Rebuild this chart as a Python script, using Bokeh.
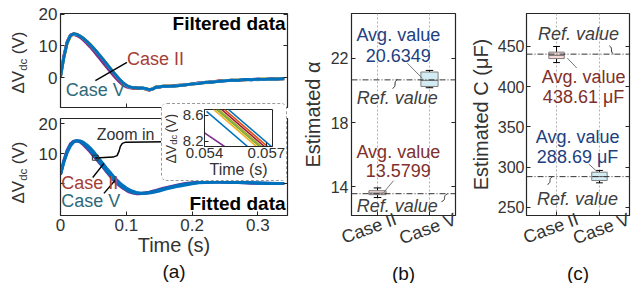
from math import pi
from bokeh.plotting import figure
from bokeh.layouts import row, column
from bokeh.models import Label, Span, FixedTicker, LinearAxis, Range1d, Title
from bokeh.embed import file_html
from bokeh.resources import INLINE

FONT = "Liberation Sans"
TXT = "#333333"
AXC = "#262626"
BLUE_T = "#213f7f"
RED_T = "#80302c"
CASE2_C = "#a63d38"
CASE5_C = "#2e6a7a"

# ---------------- data: panel (a) ----------------
time_s = [0.000, 0.005, 0.010, 0.015, 0.020, 0.025, 0.030, 0.035, 0.040, 0.045,
          0.050, 0.055, 0.060, 0.065, 0.070, 0.075, 0.080, 0.085, 0.090, 0.095,
          0.100, 0.105, 0.110, 0.115, 0.120, 0.125, 0.130, 0.135, 0.140, 0.145,
          0.150, 0.155, 0.160, 0.170, 0.180, 0.190, 0.200, 0.210, 0.220, 0.230,
          0.240, 0.250, 0.260, 0.270, 0.280, 0.290, 0.300, 0.310, 0.320, 0.330, 0.340]

filt_purple = [0.3, 6.9, 11.4, 13.5, 13.7, 13.3, 12.7, 11.8, 10.8, 9.7,
               8.5, 7.2, 5.9, 4.6, 3.3, 2.0, 0.8, -0.4, -1.5, -2.4,
               -3.0, -3.3, -3.4, -3.3, -3.5, -3.4, -3.8, -4.0, -3.5, -3.2,
               -2.9, -2.8, -2.9, -2.6, -2.4, -2.3, -2.0, -1.7, -1.6, -1.3,
               -1.2, -0.9, -0.9, -0.8, -0.6, -0.7, -0.5, -0.6, -0.4, -0.5, -0.3]
filt_green = [0.6, 6.3, 10.8, 13.0, 13.9, 13.7, 13.0, 12.4, 11.3, 10.5,
              9.2, 8.2, 6.8, 5.7, 4.2, 3.1, 1.6, 0.6, -0.8, -1.6,
              -2.6, -2.9, -3.3, -3.2, -3.4, -3.3, -3.5, -3.8, -3.7, -2.9,
              -3.2, -2.7, -2.6, -2.9, -2.4, -2.4, -2.0, -1.9, -1.5, -1.5,
              -1.1, -1.0, -0.8, -0.8, -0.6, -0.6, -0.7, -0.4, -0.6, -0.3, -0.5]
filt_yellow = [0.0, 6.0, 10.6, 13.1, 13.6, 13.8, 13.2, 12.5, 11.6, 10.6,
               9.5, 8.3, 7.1, 5.8, 4.5, 3.2, 1.9, 0.6, -0.6, -1.7,
               -2.4, -3.1, -3.1, -3.4, -3.2, -3.5, -3.7, -3.9, -3.4, -3.1,
               -3.0, -2.9, -2.6, -2.7, -2.6, -2.2, -2.2, -1.8, -1.7, -1.4,
               -1.3, -1.0, -1.0, -0.7, -0.8, -0.6, -0.6, -0.5, -0.5, -0.4, -0.4]
filt_red = [0.4, 6.6, 11.2, 13.3, 13.9, 13.5, 13.0, 12.2, 11.4, 10.3,
            9.3, 8.0, 6.8, 5.4, 4.2, 2.8, 1.6, 0.4, -0.8, -1.8,
            -2.5, -3.0, -3.3, -3.4, -3.2, -3.4, -3.6, -4.0, -3.6, -3.0,
            -3.1, -2.8, -2.7, -2.8, -2.5, -2.3, -2.1, -1.7, -1.6, -1.4,
            -1.1, -1.0, -0.8, -0.9, -0.7, -0.6, -0.5, -0.6, -0.4, -0.5, -0.4]
filt_lightblue = [0.1, 6.4, 11.0, 13.4, 13.8, 13.6, 13.2, 12.3, 11.5, 10.4,
                  9.4, 8.1, 7.0, 5.6, 4.4, 3.0, 1.8, 0.5, -0.6, -1.7,
                  -2.5, -3.0, -3.2, -3.3, -3.3, -3.4, -3.6, -3.9, -3.6, -3.0,
                  -3.1, -2.8, -2.7, -2.8, -2.5, -2.3, -2.1, -1.8, -1.6, -1.4,
                  -1.2, -1.0, -0.9, -0.8, -0.7, -0.7, -0.6, -0.6, -0.5, -0.5, -0.4]
filt_blue = [0.2, 6.2, 10.9, 13.3, 13.9, 13.7, 13.1, 12.4, 11.5, 10.5,
             9.4, 8.2, 6.9, 5.7, 4.4, 3.1, 1.8, 0.6, -0.6, -1.6,
             -2.4, -3.0, -3.2, -3.2, -3.4, -3.3, -3.5, -3.8, -3.7, -3.1,
             -3.0, -2.7, -2.8, -2.7, -2.6, -2.3, -2.0, -1.9, -1.5, -1.5,
             -1.2, -1.1, -0.8, -0.9, -0.6, -0.7, -0.5, -0.6, -0.4, -0.5, -0.3]

fit_case2 = [3.0, 7.6, 11.0, 13.2, 14.1, 14.2, 13.8, 12.9, 11.8, 10.6,
             9.2, 8.0, 6.7, 5.3, 3.9, 2.6, 1.3, 0.2, -0.8, -1.6,
             -2.3, -2.9, -3.2, -3.4, -3.4, -3.3, -3.1, -2.9, -2.6, -2.3,
             -2.0, -1.7, -1.4, -0.9, -0.4, 0.0, 0.2, 0.4, 0.5, 0.5,
             0.5, 0.4, 0.3, 0.3, 0.2, 0.1, 0.1, 0.1, 0.0, 0.0, 0.0]
fit_case5a = [3.0, 7.3, 10.7, 12.9, 14.0, 14.3, 14.0, 13.3, 12.3, 11.1,
              9.8, 8.4, 7.0, 5.6, 4.2, 2.9, 1.6, 0.5, -0.5, -1.3,
              -2.0, -2.6, -3.0, -3.2, -3.3, -3.3, -3.2, -3.0, -2.8, -2.5,
              -2.2, -1.9, -1.6, -1.1, -0.6, -0.2, 0.1, 0.3, 0.4, 0.5,
              0.5, 0.4, 0.4, 0.3, 0.2, 0.2, 0.1, 0.1, 0.0, 0.0, 0.0]
fit_case5b = [3.0, 7.0, 10.2, 12.5, 13.8, 14.3, 14.2, 13.7, 12.9, 11.9,
              10.7, 9.3, 7.9, 6.5, 5.1, 3.8, 2.5, 1.3, 0.2, -0.7,
              -1.5, -2.1, -2.6, -3.0, -3.2, -3.3, -3.3, -3.2, -3.0, -2.8,
              -2.5, -2.2, -1.9, -1.4, -0.9, -0.5, -0.1, 0.2, 0.3, 0.4,
              0.5, 0.5, 0.4, 0.4, 0.3, 0.2, 0.2, 0.1, 0.1, 0.0, 0.0]

zoom_path_t = [0.053, 0.080, 0.086, 0.089, 0.091, 0.094, 0.099, 0.160]
zoom_path_v = [8.5, 8.8, 9.3, 10.8, 12.4, 13.4, 13.8, 13.9]

# inset (zoomed) segments
inset_t_start = [0.05444, 0.05458, 0.05468, 0.05483, 0.05497, 0.05516, 0.05410, 0.05400]
inset_v_start = [8.69, 8.69, 8.69, 8.69, 8.69, 8.69, 8.66, 8.33]
inset_t_end = [0.05652, 0.05667, 0.05677, 0.05691, 0.05706, 0.05725, 0.05609, 0.05497]
inset_v_end = [8.12, 8.12, 8.12, 8.12, 8.12, 8.12, 8.12, 8.12]
inset_colors = ["#EDB120", "#77AC30", "#9BA82A", "#A2142F", "#D95319", "#0072BD", "#0072BD", "#7E2F8E"]

# ---------------- data: panels (b), (c) ----------------
case_x = [1, 2]
case_names = ["Case II", "Case V"]
alpha_lo = [13.32, 20.17]
alpha_q1 = [13.50, 20.25]
alpha_med = [13.60, 20.63]
alpha_q3 = [13.75, 21.15]
alpha_hi = [13.92, 21.25]
alpha_avg = [13.5799, 20.6349]
alpha_ref = [13.56, 20.66]

cap_lo = [430.0, 280.6]
cap_q1 = [435.0, 283.5]
cap_med = [439.0, 288.4]
cap_q3 = [443.0, 293.8]
cap_hi = [450.0, 296.0]
cap_avg = [438.61, 288.69]
cap_ref = [440.5, 288.3]

box_fill = ["#f4d7d7", "#d3ecf3"]


# ---------------- helpers ----------------
def base_fig(w, h, xr, yr, bl, br, bt, bb):
    p = figure(width=w, height=h, x_range=xr, y_range=yr, output_backend="svg",
               toolbar_location=None, tools="",
               min_border_left=bl, min_border_right=br, min_border_top=bt, min_border_bottom=bb)
    p.xgrid.visible = False
    p.ygrid.visible = False
    p.background_fill_color = "white"
    p.border_fill_color = "white"
    p.outline_line_color = AXC
    p.outline_line_width = 1.2
    return p


def strip_fig(w, h):
    # a frameless label strip whose frame fills the canvas: 1 data unit = 1 px
    p = figure(width=w, height=h, x_range=Range1d(0, w), y_range=Range1d(0, h),
               output_backend="svg", toolbar_location=None, tools="",
               x_axis_location=None, y_axis_location=None, frame_align=False,
               min_border=0, min_border_left=0, min_border_right=0,
               min_border_top=0, min_border_bottom=0)
    p.xgrid.visible = False
    p.ygrid.visible = False
    p.outline_line_color = None
    p.background_fill_color = "white"
    p.border_fill_color = "white"
    return p


def style_axes(p, tick_size="16px", label_size="20px"):
    for ax in list(p.xaxis) + list(p.yaxis):
        ax.major_label_text_font = FONT
        ax.major_label_text_font_size = tick_size
        ax.major_label_text_color = TXT
        ax.axis_label_text_font = FONT
        ax.axis_label_text_font_size = label_size
        ax.axis_label_text_font_style = "normal"
        ax.axis_label_text_color = TXT
        ax.major_tick_in = 4
        ax.major_tick_out = 0
        ax.minor_tick_in = 4
        ax.minor_tick_out = 0
        ax.minor_tick_line_color = AXC
        ax.axis_line_color = AXC
        ax.major_tick_line_color = AXC
        ax.major_label_standoff = 3


def mirror_right(p, ticks):
    ax = LinearAxis(ticker=FixedTicker(ticks=[], minor_ticks=ticks),
                    minor_tick_in=4, minor_tick_out=0, major_tick_in=0, major_tick_out=0,
                    minor_tick_line_color=AXC, axis_line_color=None)
    p.add_layout(ax, "right")


def lab(p, x, y, text, size="18px", color=TXT, align="center", baseline="middle",
        style="normal", xu="data", yu="data", angle=0.0, x_offset=0):
    p.add_layout(Label(x=x, y=y, x_units=xu, y_units=yu, text=text, text_font=FONT,
                       text_font_size=size, text_color=color, text_align=align,
                       text_baseline=baseline, text_font_style=style, angle=angle,
                       x_offset=x_offset))


def dv_label(p, x, y0, big, small, w_big, w_small, sub_dx, gap):
    lab(p, x, y0, "\u0394V", size=f"{big}px", align="left", angle=pi / 2)
    lab(p, x + sub_dx, y0 + w_big, "dc", size=f"{small}px", align="left", angle=pi / 2)
    lab(p, x, y0 + w_big + w_small + gap, "(V)", size=f"{big}px", align="left", angle=pi / 2)


def below_title(p, text):
    t = Title(text=text, align="center", text_font=FONT, text_font_size="19px",
              text_font_style="normal", text_color="#111111", standoff=0, offset=0)
    p.add_layout(t, "below")


def box_plot(p, w, lo, q1, med, q3, hi):
    p.segment(x0=case_x, y0=lo, x1=case_x, y1=q1, line_color="black", line_width=1)
    p.segment(x0=case_x, y0=q3, x1=case_x, y1=hi, line_color="black", line_width=1)
    p.segment(x0=[c - w * 0.22 for c in case_x], y0=lo, x1=[c + w * 0.22 for c in case_x], y1=lo,
              line_color="black", line_width=1)
    p.segment(x0=[c - w * 0.22 for c in case_x], y0=hi, x1=[c + w * 0.22 for c in case_x], y1=hi,
              line_color="black", line_width=1)
    p.vbar(x=case_x, width=w, bottom=q1, top=q3, fill_color=box_fill, line_color="#7f7f7f", line_width=1)
    p.segment(x0=[c - w / 2 for c in case_x], y0=med, x1=[c + w / 2 for c in case_x], y1=med,
              line_color="#6f6f6f", line_width=1)


# ---------------- y-label strip for (a) ----------------
ylab_a = strip_fig(30, 283)
dv_label(ylab_a, 18, 190, 17, 11.5, 22.7, 12.6, 4, 4)
dv_label(ylab_a, 18, 80, 17, 11.5, 22.7, 12.6, 4, 4)

# ---------------- panel (a) top ----------------
XR_A = (0, 0.345)
fa_top = base_fig(267, 112, Range1d(*XR_A), Range1d(-9.5, 20.3), 30, 10, 13, 5)
fa_top.xaxis.ticker = FixedTicker(ticks=[], minor_ticks=[0, 0.1, 0.2, 0.3])
fa_top.yaxis.ticker = FixedTicker(ticks=[0, 10, 20])
style_axes(fa_top, tick_size="17px")
fa_top.xaxis.major_label_standoff = 0
mirror_right(fa_top, [0, 10, 20])

filt_series = [(filt_purple, "#7E2F8E"), (filt_green, "#77AC30"), (filt_yellow, "#EDB120"),
               (filt_red, "#A2142F"), (filt_lightblue, "#4DBEEE"), (filt_blue, "#0072BD")]
for vals, col in filt_series:
    fa_top.line(time_s, vals, line_color=col, line_width=2.8)

fa_top.line([0.053, 0.101], [-1.0, 4.8], line_color="black", line_width=1.4)
lab(fa_top, 0.101, 6.0, "Case II", color=CASE2_C, align="left")
lab(fa_top, 0.008, -4.1, "Case V", color=CASE5_C, align="left")
lab(fa_top, 0.342, 17.1, "Filtered data", size="19px", color="black", align="right", style="bold")

# ---------------- panel (a) bottom ----------------
fa_bot = base_fig(267, 171, Range1d(*XR_A), Range1d(-10.7, 21.7), 30, 10, 6, 68)
fa_bot.xaxis.ticker = FixedTicker(ticks=[0, 0.1, 0.2, 0.3])
fa_bot.xaxis.major_label_overrides = {0: "0", 0.1: "0.1", 0.2: "0.2", 0.3: "0.3"}
fa_bot.yaxis.ticker = FixedTicker(ticks=[10, 20], minor_ticks=[0])
fa_bot.xaxis.axis_label = "Time (s)"
style_axes(fa_bot, tick_size="17px")
fa_bot.xaxis.axis_label_standoff = 0
mirror_right(fa_bot, [0, 10, 20])
below_title(fa_bot, "(a)")

fa_bot.line(time_s, fit_case2, line_color="#7E2F8E", line_width=3)
fa_bot.line(time_s, fit_case5a, line_color="#0072BD", line_width=3)
fa_bot.line(time_s, fit_case5b, line_color="#0072BD", line_width=3)
fa_bot.line(zoom_path_t, zoom_path_v, line_color="black", line_width=1.5)
fa_bot.rect(x=[0.053], y=[8.6], width=6, height=5, width_units="screen", height_units="screen",
            fill_color=None, line_color="#333333", line_width=1)
fa_bot.line([0.049, 0.066], [2.0, 6.7], line_color="black", line_width=1.4)
fa_bot.line([0.066, 0.084], [-3.3, 1.3], line_color="black", line_width=1.4)
lab(fa_bot, 0.055, 16.3, "Zoom in", size="16px", align="left")
lab(fa_bot, 0.001, 0.3, "Case II", color=CASE2_C, align="left")
lab(fa_bot, 0.001, -5.7, "Case V", color=CASE5_C, align="left")
lab(fa_bot, 0.342, -6.7, "Fitted data", size="19px", color="black", align="right", style="bold")

col_a = column(fa_top, fa_bot, spacing=0)

# ---------------- inset ----------------
inset_lab = strip_fig(16, 75)
dv_label(inset_lab, 8, 16, 14, 9.5, 18.7, 10.2, 3, 2)

inset = figure(frame_width=68, frame_height=37, x_range=Range1d(0.054, 0.0573),
               y_range=Range1d(8.12, 8.69), output_backend="svg", toolbar_location=None,
               tools="",
               min_border_left=26, min_border_right=14, min_border_top=5, min_border_bottom=33)
inset.xgrid.visible = False
inset.ygrid.visible = False
inset.outline_line_color = AXC
inset.border_fill_color = "white"
inset.segment(x0=inset_t_start, y0=inset_v_start, x1=inset_t_end, y1=inset_v_end,
              line_color=inset_colors, line_width=1.6)
inset.xaxis.ticker = FixedTicker(ticks=[0.054, 0.057])
inset.xaxis.major_label_overrides = {0.054: "0.054", 0.057: "0.057"}
inset.yaxis.ticker = FixedTicker(ticks=[8.2, 8.6])
inset.xaxis.axis_label = "Time (s)"
style_axes(inset, tick_size="15px", label_size="16px")
for ax in list(inset.xaxis) + list(inset.yaxis):
    ax.major_label_standoff = 1
inset.xaxis.axis_label_standoff = 0

inset_box = row(inset_lab, inset, spacing=0,
                styles={"position": "absolute", "left": "161px", "top": "103px", "z-index": "10",
                        "border": "1px dashed #9a9a9a", "border-radius": "6px",
                        "background-color": "white"})

# ---------------- panel (b) ----------------
fb = base_fig(169, 283, Range1d(0.5, 2.5), Range1d(12.2, 24.8), 54, 11, 13, 68)
fb_lab_pos = [case_x[0] + 0.35, case_x[1] + 0.5]
fb.xaxis.ticker = FixedTicker(ticks=fb_lab_pos, minor_ticks=case_x)
fb.xaxis.major_label_overrides = {fb_lab_pos[0]: case_names[0], fb_lab_pos[1]: case_names[1]}
fb.yaxis.ticker = FixedTicker(ticks=[14, 18, 22])
fb.yaxis.axis_label = "Estimated \u03b1"
fb.xgrid.visible = True
fb.xgrid.ticker = FixedTicker(ticks=case_x)
fb.xgrid.grid_line_color = "#b0b0b0"
fb.xgrid.grid_line_dash = "2 2"
style_axes(fb)
fb.xaxis.major_tick_in = 0
fb.xaxis.major_label_text_font_size = "18px"
fb.xaxis.major_label_orientation = 0.35
fb.yaxis.axis_label_standoff = 4
mirror_right(fb, [14, 18, 22])
below_title(fb, "(b)")

for r in alpha_ref:
    fb.add_layout(Span(location=r, dimension="width", line_color="#333333", line_width=1,
                       line_dash="6 2 1 2"))
box_plot(fb, 0.33, alpha_lo, alpha_q1, alpha_med, alpha_q3, alpha_hi)
fb.line([1.577, 1.865], [21.69, 20.75], line_color="#777777", line_width=1)
fb.line([1.31, 1.115], [14.375, 13.625], line_color="#777777", line_width=1)
fb.bezier(x0=[1.385, 2.35], y0=[20.69, 13.56], x1=[1.29, 2.23], y1=[20.125, 13.06],
          cx0=[1.29, 2.23], cy0=[20.5, 13.4], cx1=[1.385, 2.35], cy1=[20.3, 13.22],
          line_color="#333333", line_width=1)
lab(fb, 1.40, 23.44, "Avg. value", color=BLUE_T)
lab(fb, 1.40, 22.19, f"{alpha_avg[1]:.4f}", color=BLUE_T)
lab(fb, 1.40, 16.13, "Avg. value", color=RED_T)
lab(fb, 1.40, 15.0, f"{alpha_avg[0]:.4f}", color=RED_T)
lab(fb, 1.38, 19.56, "Ref. value", style="italic", color="#404040")
lab(fb, 1.38, 12.81, "Ref. value", style="italic", color="#404040")

# ---------------- panel (c) ----------------
fc = base_fig(173, 283, Range1d(0.3, 2.7), Range1d(240, 491), 60, 10, 13, 68)
fc_lab_pos = [case_x[0] + 0.49, case_x[1] + 0.69]
fc.xaxis.ticker = FixedTicker(ticks=fc_lab_pos, minor_ticks=case_x)
fc.xaxis.major_label_overrides = {fc_lab_pos[0]: case_names[0], fc_lab_pos[1]: case_names[1]}
fc.yaxis.ticker = FixedTicker(ticks=[250, 300, 350, 400, 450])
fc.yaxis.axis_label = "Estimated C (\u03bcF)"
fc.xgrid.visible = True
fc.xgrid.ticker = FixedTicker(ticks=case_x)
fc.xgrid.grid_line_color = "#b0b0b0"
fc.xgrid.grid_line_dash = "2 2"
style_axes(fc)
fc.xaxis.major_tick_in = 0
fc.xaxis.major_label_text_font_size = "18px"
fc.xaxis.major_label_orientation = 0.35
fc.yaxis.major_label_standoff = 2
fc.yaxis.axis_label_standoff = 3
mirror_right(fc, [250, 300, 350, 400, 450])
below_title(fc, "(c)")

for r in cap_ref:
    fc.add_layout(Span(location=r, dimension="width", line_color="#333333", line_width=1,
                       line_dash="6 2 1 2"))
box_plot(fc, 0.36, cap_lo, cap_q1, cap_med, cap_q3, cap_hi)
fc.line([1.25, 1.47], [435.6, 423.3], line_color="#777777", line_width=1)
fc.line([1.75, 1.96], [304.0, 293.8], line_color="#777777", line_width=1)
fc.bezier(x0=[2.33, 0.907], y0=[440.5, 288.3], x1=[2.23, 0.79], y1=[451.0, 278.5],
          cx0=[2.23, 0.79], cy0=[444.0, 285.0], cx1=[2.33, 0.907], cy1=[447.5, 282.0],
          line_color="#333333", line_width=1)
lab(fc, 1.51, 466, "Ref. value", style="italic", color="#404040")
lab(fc, 1.49, 260, "Ref. value", style="italic", color="#404040")
lab(fc, 1.63, 411.7, "Avg. value", color=RED_T)
lab(fc, 1.63, 387, f"{cap_avg[0]:.2f} \u03bcF", color=RED_T)
lab(fc, 1.49, 337.6, "Avg. value", color=BLUE_T)
lab(fc, 1.49, 313, f"{cap_avg[1]:.2f} \u03bcF", color=BLUE_T)

layout = row(ylab_a, col_a, fb, fc, inset_box, spacing=0)

open("out.html", "w").write(file_html(layout, INLINE))
